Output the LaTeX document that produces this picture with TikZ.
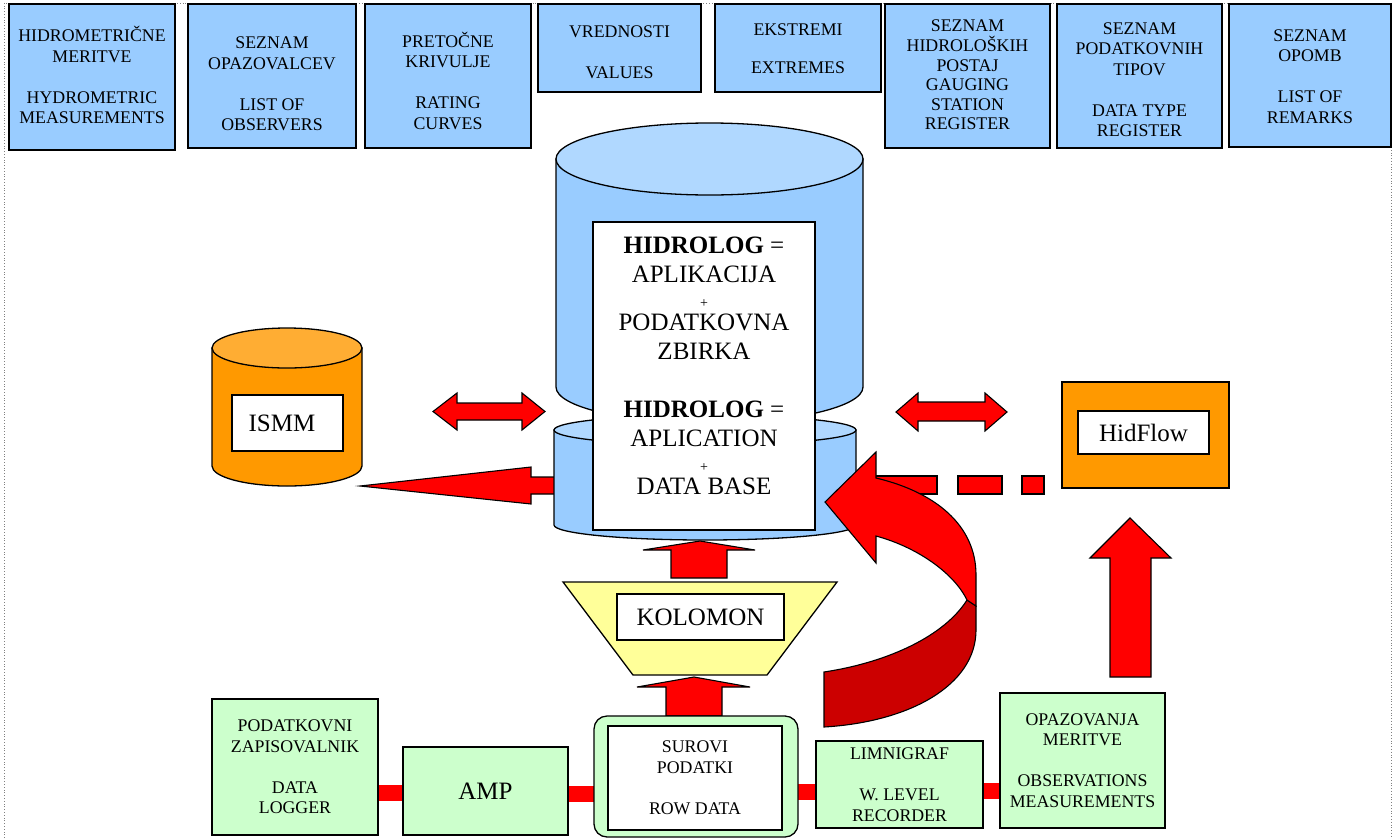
\documentclass[tikz,border=0pt]{standalone}
\usepackage{fontspec}
\setmainfont{Liberation Serif}
\usetikzlibrary{calc}
\pgfdeclarelayer{bg}
\pgfsetlayers{bg,main}
\definecolor{boxblue}{HTML}{99CCFF}
\definecolor{topblue}{HTML}{B0D8FF}
\definecolor{orng}{HTML}{FF9900}
\definecolor{orngtop}{HTML}{FFAD33}
\definecolor{lgreen}{HTML}{CCFFCC}
\definecolor{lyellow}{HTML}{FFFF99}
\definecolor{dred}{HTML}{CC0000}
\newcommand{\fbig}{\fontsize{25}{29}\selectfont}
\newcommand{\fsm}{\fontsize{17.8}{20.5}\selectfont}
\newcommand{\fplus}{\fontsize{14}{15}\selectfont}
\newcommand{\drawcyl}[7]{%
  \draw[shapeline, fill=#6] (#1-#4,#2) -- (#1-#4,#3) arc[start angle=180, end angle=0, x radius=#4, y radius=#5] -- (#1+#4,#2) -- cycle;
  \draw[shapeline, fill=#7] (#1,#2) ellipse[x radius=#4, y radius=#5];
}
\begin{document}
\begin{tikzpicture}[x=1pt,y=-1pt, line join=miter,
  every node/.style={inner sep=0pt, outer sep=0pt},
  shapeline/.style={draw=black, line width=1.3pt},
  topbox/.style={draw=black, line width=1.6pt, fill=boxblue, anchor=north west},
  toptext/.style={font=\fsm, align=center},
  gbox/.style={draw=black, line width=1.3pt, fill=lgreen, font=\fsm, align=center},
  wbox/.style={draw=black, line width=1.3pt, fill=white, align=center},
  blockarrow/.style={draw=black, line width=1.1pt, fill=red},
  link/.style={red, line width=16pt}
]
\useasboundingbox (0,0) rectangle (1396,838);
\draw[gray, dotted, line width=0.8pt] (4,838) -- (4,3) -- (1391,3) -- (1391,838);

% top register boxes
\node[topbox, minimum width=166pt, minimum height=146pt] (b1) at (9,4) {};
\node[toptext] (t1) at (92,75) {HIDROMETRIČNE\\MERITVE\\[20.5pt]HYDROMETRIC\\MEASUREMENTS};
\node[topbox, minimum width=168pt, minimum height=144pt] (b2) at (188,4) {};
\node[toptext] (t2) at (272,84) {SEZNAM\\OPAZOVALCEV\\[20.5pt]LIST OF\\OBSERVERS};
\node[topbox, minimum width=166pt, minimum height=144pt] (b3) at (365,4) {};
\node[toptext] (t3) at (448,80.5) {PRETOČNE\\KRIVULJE\\[20.5pt]RATING\\CURVES};
\node[topbox, minimum width=163pt, minimum height=88pt] (b4) at (538,4) {};
\node[toptext] (t4) at (619.5,52) {VREDNOSTI\\[20.5pt]VALUES};
\node[topbox, minimum width=166pt, minimum height=88pt] (b5) at (715,4) {};
\node[toptext] (t5) at (798,48.5) {EKSTREMI\\[18pt]EXTREMES};
\node[topbox, minimum width=165pt, minimum height=144pt] (b6) at (885,4) {};
\node[toptext, font=\fontsize{17.8}{19.6}\selectfont] (t6) at (967.5,75) {SEZNAM\\HIDROLOŠKIH\\POSTAJ\\GAUGING\\STATION\\REGISTER};
\node[topbox, minimum width=165pt, minimum height=144pt] (b7) at (1057,4) {};
\node[toptext] (t7) at (1139.5,79.5) {SEZNAM\\PODATKOVNIH\\TIPOV\\[20.5pt]DATA TYPE\\REGISTER};
\node[topbox, minimum width=162pt, minimum height=143pt] (b8) at (1229,4) {};
\node[toptext] (t8) at (1310,76.5) {SEZNAM\\OPOMB\\[20.5pt]LIST OF\\REMARKS};

% tapered arrow towards ISMM
\draw[blockarrow] (360,486) -- (531,467) -- (531,477) -- (560,477) -- (560,494) -- (531,494) -- (531,504) -- cycle;
% arrow KOLOMON -> HIDROLOG
\draw[blockarrow] (700,541) -- (755,550) -- (727,550) -- (727,578) -- (671,578) -- (671,550) -- (643,550) -- cycle;

% HIDROLOG cylinder
\drawcyl{705}{430}{525}{151}{15}{boxblue}{topblue}
\drawcyl{709.5}{159}{387}{153.5}{36}{boxblue}{topblue}
\node[wbox, minimum width=222pt, minimum height=308pt] (hbox) at (704,376) {};
\node[font=\fbig, align=center] (htext) at (704,365.5) {{\bfseries HIDROLOG} =\\APLIKACIJA\\[-4pt]{\fplus +}\\[-6pt]PODATKOVNA\\ZBIRKA\\[29pt]{\bfseries HIDROLOG} =\\APLICATION\\[-4pt]{\fplus +}\\[-6pt]DATA BASE};

% ISMM cylinder
\drawcyl{287}{348}{466}{75}{20}{orng}{orngtop}
\node[wbox, font=\fbig, minimum width=111pt, minimum height=56pt] (ismm) at (287.5,423) {ISMM\hspace*{11pt}};

% double arrows
\draw[blockarrow] (433,411.5) -- (457,393) -- (457,403) -- (522,403) -- (522,393) -- (545,411.5) -- (522,430) -- (522,420) -- (457,420) -- (457,430) -- cycle;
\draw[blockarrow] (896,412) -- (918,393) -- (918,402) -- (985,402) -- (985,393) -- (1007,412) -- (985,431) -- (985,421) -- (918,421) -- (918,431) -- cycle;

% HidFlow
\node[draw=black, line width=1.3pt, fill=orng, minimum width=167pt, minimum height=106pt] (hidflowbg) at (1145.5,435) {};
\node[wbox, font=\fbig, minimum width=131pt, minimum height=43pt] (hidflow) at (1143.5,432.5) {HidFlow};

% dashed thick link HidFlow -> HIDROLOG
\draw[blockarrow] (866,476) rectangle (937,494);
\draw[blockarrow] (958,476) rectangle (1002,494);
\draw[blockarrow] (1022,476) rectangle (1044,494);

% curved arrow
\draw[shapeline, line width=1.1pt, fill=dred] (824,672) .. controls (890,662) and (945,635) .. (967,600) -- (976,606) -- (976,630) .. controls (976,685) and (910,722) .. (824,727) -- cycle;
\draw[blockarrow] (825,502) -- (876,452) -- (876,478) .. controls (935,492) and (976,525) .. (976,575) -- (976,606) -- (967,600) .. controls (955,575) and (920,548) .. (876,536) -- (876,563) -- cycle;

% KOLOMON
\draw[shapeline, fill=lyellow] (563,582) -- (837,582) -- (767,675) -- (633,675) -- cycle;
\node[wbox, font=\fbig, minimum width=167pt, minimum height=46pt] (kolomon) at (700.5,617) {KOLOMON};
\draw[blockarrow] (694,677) -- (750,687) -- (722,687) -- (722,716) -- (666,716) -- (666,687) -- (637,687) -- cycle;

% bottom row
\node[gbox, minimum width=166pt, minimum height=136pt] (dl) at (295,767) {PODATKOVNI\\ZAPISOVALNIK\\[20.5pt]DATA\\LOGGER};
\node[gbox, font=\fbig, minimum width=165pt, minimum height=88pt] (amp) at (485.5,791) {AMP};
\node[draw=black, line width=1.3pt, fill=lgreen, rounded corners=13pt, minimum width=204pt, minimum height=121pt] (rawo) at (696,776.5) {};
\node[wbox, font=\fsm, minimum width=174pt, minimum height=104pt] (raw) at (695,778) {SUROVI\\PODATKI\\[21pt]ROW DATA};
\node[gbox, minimum width=167pt, minimum height=87pt] (lim) at (899.5,784.5) {LIMNIGRAF\\[20.5pt]W. LEVEL\\RECORDER};
\node[gbox, minimum width=165pt, minimum height=135pt] (opaz) at (1082.5,760.5) {OPAZOVANJA\\MERITVE\\[20.5pt]OBSERVATIONS\\MEASUREMENTS};

\begin{pgfonlayer}{bg}
\draw[link] (dl.east |- 0,793) -- (amp.west |- 0,793);
\draw[link] (amp.east |- 0,794) -- (rawo.west |- 0,794);
\draw[link] (rawo.east |- 0,791.5) -- (lim.west |- 0,791.5);
\draw[link] (lim.east |- 0,790.5) -- (opaz.west |- 0,790.5);
\end{pgfonlayer}

% arrow observations -> HidFlow
\draw[blockarrow] (1130,518) -- (1171,558) -- (1151,558) -- (1151,677) -- (1110,677) -- (1110,558) -- (1090,558) -- cycle;
\end{tikzpicture}
\end{document}
